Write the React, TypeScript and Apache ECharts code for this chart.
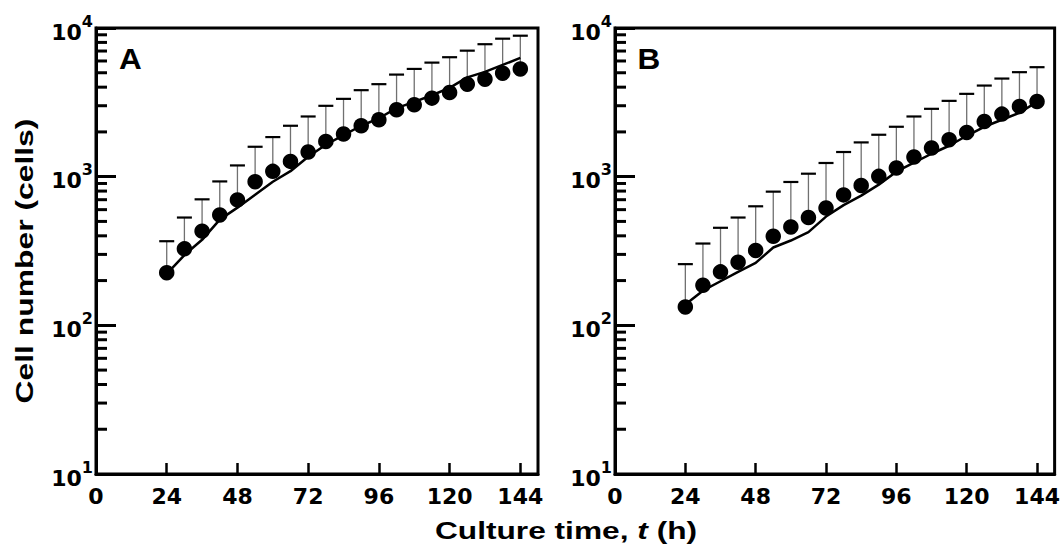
import React, { useEffect, useRef } from "react";
import * as echarts from "echarts";

// Culture time points (h)
const hours = [24, 30, 36, 42, 48, 54, 60, 66, 72, 78, 84, 90, 96, 102, 108, 114, 120, 126, 132, 138, 144];

// Panel A: measured mean, upper error bound and model curve (cells)
const meanA = [226, 327, 430, 553, 698, 925, 1086, 1267, 1465, 1726, 1935, 2200, 2413, 2816, 3044, 3375, 3680, 4190, 4525, 4966, 5305];
const upperA = [368, 531, 704, 929, 1190, 1589, 1846, 2200, 2540, 2996, 3337, 3818, 4190, 4860, 5305, 5850, 6360, 7040, 7780, 8475, 8875];
const modelA = [222, 297, 376, 514, 619, 757, 925, 1089, 1362, 1640, 1900, 2200, 2470, 2890, 3187, 3530, 3957, 4655, 5070, 5645, 6290];

// Panel B: measured mean, upper error bound and model curve (cells)
const meanB = [133, 186, 229, 266, 319, 397, 459, 531, 615, 754, 873, 1005, 1143, 1356, 1558, 1772, 1983, 2350, 2635, 2965, 3200];
const upperB = [258, 355, 453, 531, 632, 793, 921, 1047, 1236, 1465, 1700, 1914, 2166, 2540, 2860, 3235, 3606, 4100, 4570, 5045, 5450];
const modelB = [138, 171, 198, 229, 263, 334, 372, 424, 539, 644, 745, 884, 1081, 1242, 1426, 1614, 1884, 2166, 2415, 2690, 3186];

// Minor ticks of the logarithmic cell-number axis
const minorTicks = [20, 30, 40, 50, 60, 70, 80, 90, 200, 300, 400, 500, 600, 700, 800, 900, 2000, 3000, 4000, 5000, 6000, 7000, 8000, 9000];

const FONT = "'Liberation Sans', Arial, Helvetica, sans-serif";
const TICK_FONT = "'DejaVu Sans', 'Liberation Sans', Arial, sans-serif";

const panels = [
  { tag: "A", left: 96, width: 442, tagX: 130.5, mean: meanA, upper: upperA, model: modelA },
  { tag: "B", left: 615, width: 441, tagX: 649, mean: meanB, upper: upperB, model: modelB },
];

function buildOption() {
  const grid = panels.map((p) => ({
    left: p.left,
    top: 28,
    width: p.width,
    height: 446,
    show: true,
    borderColor: "#000",
    borderWidth: 3,
    backgroundColor: "transparent",
  }));

  const xAxis = panels.map((_, i) => ({
    type: "value",
    gridIndex: i,
    min: 0,
    max: 150,
    interval: 24,
    axisLine: { show: true, onZero: false, lineStyle: { color: "#000", width: 3 } },
    axisTick: { show: true, inside: true, length: 11, lineStyle: { color: "#000", width: 2.5 } },
    axisLabel: {
      margin: 11,
      color: "#000",
      fontSize: 22,
      fontWeight: "bold",
      fontFamily: TICK_FONT,
      showMaxLabel: false,
    },
    splitLine: { show: false },
  }));

  const yAxis = panels.map((_, i) => ({
    type: "log",
    logBase: 10,
    gridIndex: i,
    min: 10,
    max: 10000,
    axisLine: { show: true, onZero: false, lineStyle: { color: "#000", width: 3 } },
    axisTick: { show: true, inside: true, length: 20, lineStyle: { color: "#000", width: 3 } },
    axisLabel: {
      margin: 3,
      color: "#000",
      formatter: (v: number) => `{b|10}{s|${Math.round(Math.log10(v))}}`,
      rich: {
        b: { fontSize: 22, fontWeight: "bold", fontFamily: TICK_FONT, color: "#000", verticalAlign: "bottom", lineHeight: 30 },
        s: { fontSize: 16, fontWeight: "bold", fontFamily: TICK_FONT, color: "#000", verticalAlign: "top", lineHeight: 17 },
      },
    },
    splitLine: { show: false },
  }));

  const series: any[] = [];
  panels.forEach((p, i) => {
    // minor ticks, drawn inward from the left axis
    series.push({
      type: "custom",
      xAxisIndex: i,
      yAxisIndex: i,
      clip: false,
      silent: true,
      data: minorTicks.map((v) => [0, v]),
      renderItem: (_params: any, api: any) => {
        const pt = api.coord([api.value(0), api.value(1)]);
        return {
          type: "line",
          shape: { x1: pt[0], y1: pt[1], x2: pt[0] + 11, y2: pt[1] },
          style: { stroke: "#000", lineWidth: 3 },
        };
      },
    });
    // upper error bars
    series.push({
      type: "custom",
      xAxisIndex: i,
      yAxisIndex: i,
      clip: false,
      silent: true,
      z: 2,
      data: hours.map((t, k) => [t, p.mean[k], p.upper[k]]),
      renderItem: (_params: any, api: any) => {
        const base = api.coord([api.value(0), api.value(1)]);
        const top = api.coord([api.value(0), api.value(2)]);
        return {
          type: "group",
          children: [
            {
              type: "line",
              shape: { x1: top[0], y1: base[1], x2: top[0], y2: top[1] },
              style: { stroke: "#707070", lineWidth: 1.3 },
            },
            {
              type: "line",
              shape: { x1: top[0] - 7.5, y1: top[1], x2: top[0] + 7.5, y2: top[1] },
              style: { stroke: "#000", lineWidth: 2.2 },
            },
          ],
        };
      },
    });
    // model curve
    series.push({
      type: "line",
      xAxisIndex: i,
      yAxisIndex: i,
      z: 3,
      showSymbol: false,
      silent: true,
      data: hours.map((t, k) => [t, p.model[k]]),
      lineStyle: { color: "#000", width: 2.5 },
    });
    // measured means
    series.push({
      type: "scatter",
      xAxisIndex: i,
      yAxisIndex: i,
      z: 4,
      symbol: "circle",
      symbolSize: 15.5,
      silent: true,
      data: hours.map((t, k) => [t, p.mean[k]]),
      itemStyle: { color: "#000", opacity: 1 },
    });
  });

  const graphic: any[] = [
    {
      type: "text",
      x: 24,
      y: 261,
      rotation: Math.PI / 2,
      scaleX: 1.3,
      style: {
        text: "Cell number (cells)",
        align: "center",
        verticalAlign: "middle",
        font: `bold 24.5px ${FONT}`,
        fill: "#000",
      },
    },
    {
      type: "text",
      x: 566,
      y: 531,
      scaleX: 1.32,
      style: {
        text: "{n|Culture time, }{i|t}{n| (h)}",
        align: "center",
        verticalAlign: "middle",
        rich: {
          n: { fontSize: 24, fontWeight: "bold", fontFamily: FONT, fill: "#000" },
          i: { fontSize: 24, fontWeight: "bold", fontStyle: "italic", fontFamily: FONT, fill: "#000" },
        },
      },
    },
    ...panels.map((p) => ({
      type: "text",
      x: p.tagX,
      y: 59,
      scaleX: 1.05,
      style: {
        text: p.tag,
        align: "center",
        verticalAlign: "middle",
        font: `bold 30px ${FONT}`,
        fill: "#000",
      },
    })),
  ];

  return {
    animation: false,
    backgroundColor: "#fff",
    grid,
    xAxis,
    yAxis,
    series,
    graphic,
  };
}

export default function App() {
  const ref = useRef<HTMLDivElement>(null);
  useEffect(() => {
    if (!ref.current) return;
    const chart = echarts.init(ref.current, null, { renderer: "svg" });
    chart.setOption(buildOption() as any);
    return () => chart.dispose();
  }, []);
  return (
    <div
      ref={ref}
      style={{ position: "fixed", left: 0, top: 0, width: 1063, height: 554 }}
    />
  );
}
